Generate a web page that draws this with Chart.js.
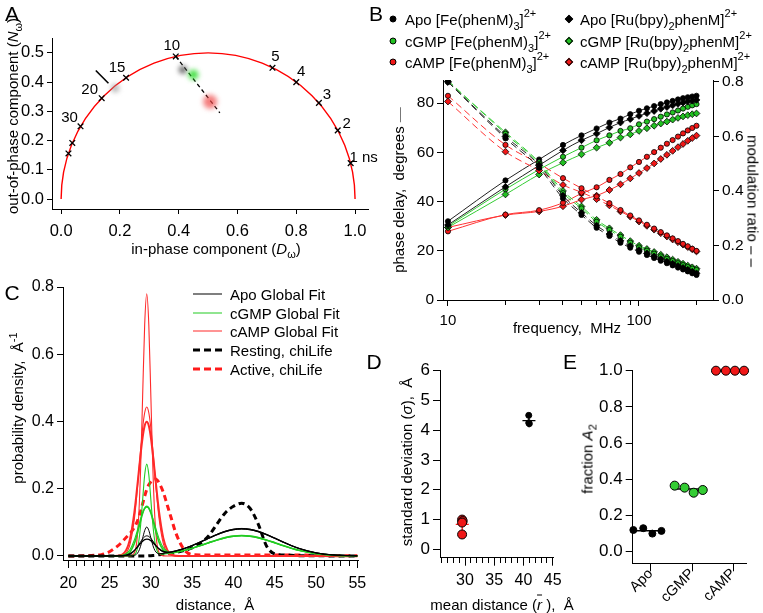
<!DOCTYPE html>
<html>
<head>
<meta charset="utf-8">
<script src="https://cdn.jsdelivr.net/npm/chart.js"></script>
<style>
  body { margin:0; width:763px; height:613px; position:relative; background:#fff; overflow:hidden;
         font-family:'Liberation Sans', Arial, Helvetica, sans-serif; color:#000; }
  canvas { position:absolute; left:0; top:0; }
  .t { position:absolute; font-size:15px; white-space:pre; line-height:1; }
  .c { transform:translate(-50%,-50%); }
  .rot { transform:translate(-50%,-50%) rotate(-90deg); }
  .rot90 { transform:translate(-50%,-50%) rotate(90deg); }
  .lg { transform:translateY(-50%); }
  .letter { position:absolute; font-size:21px; line-height:1; transform:translate(-50%,-50%); }
  .lo { font-size:11px; position:relative; top:5px; }
  .hi { font-size:11px; position:relative; top:-8px; }
  sub { font-size:11px; line-height:0; }
  .mk { position:absolute; width:7px; height:7px; box-sizing:border-box; border:1px solid #000; transform:translate(-50%,-50%); }
  .circ { border-radius:50%; }
  .dia { width:6px; height:6px; transform:translate(-50%,-50%) rotate(45deg); }
  .ln { position:absolute; transform:translateY(-50%); }
</style>
</head>
<body>
<canvas id="chartA" width="763" height="613"></canvas>
<canvas id="chartB" width="763" height="613"></canvas>
<canvas id="chartC" width="763" height="613"></canvas>
<canvas id="chartD" width="763" height="613"></canvas>
<canvas id="chartE" width="763" height="613"></canvas>

<!-- panel letters -->
<div class="letter" style="left:12px;top:13px">A</div>
<div class="letter" style="left:376px;top:13px">B</div>
<div class="letter" style="left:12px;top:292px">C</div>
<div class="letter" style="left:374px;top:361px">D</div>
<div class="letter" style="left:570px;top:361px">E</div>

<!-- axis titles -->
<div class="t rot" style="left:12px;top:116px">out-of-phase component (<i>N</i><sub>ω</sub>)</div>
<div class="t c" style="left:216px;top:248px">in-phase component (<i>D</i><sub>ω</sub>)</div>
<div class="t rot" style="left:398px;top:190px">phase delay,  degrees <span style="color:#777">—</span></div>
<div class="t rot90" style="left:753px;top:201px">modulation ratio – –</div>
<div class="t c" style="left:567px;top:327px">frequency,  MHz</div>
<div class="t rot" style="left:17px;top:408px">probability density,  Å<span class="hi" style="top:-6px">-1</span></div>
<div class="t c" style="left:215px;top:604px">distance,  Å</div>
<div class="t rot" style="left:406px;top:462px">standard deviation (<i>σ</i>),  Å</div>
<div class="t c" style="left:502px;top:604px">mean distance (<i style="text-decoration:overline">r</i> ),  Å</div>
<div class="t rot" style="left:587px;top:459px">fraction <i>A</i><sub>2</sub></div>

<!-- panel B legend -->
<div class="mk circ" style="left:393px;top:19px;background:#000"></div>
<div class="t lg" style="left:405px;top:19px">Apo [Fe(phenM)<span class="lo">3</span>]<span class="hi">2+</span></div>
<div class="mk circ" style="left:393px;top:41px;background:#22c022"></div>
<div class="t lg" style="left:405px;top:41px">cGMP [Fe(phenM)<span class="lo">3</span>]<span class="hi">2+</span></div>
<div class="mk circ" style="left:393px;top:62px;background:#f01818"></div>
<div class="t lg" style="left:405px;top:62px">cAMP [Fe(phenM)<span class="lo">3</span>]<span class="hi">2+</span></div>
<div class="mk dia" style="left:569px;top:19px;background:#000"></div>
<div class="t lg" style="left:580px;top:19px">Apo [Ru(bpy)<span class="lo">2</span>phenM]<span class="hi">2+</span></div>
<div class="mk dia" style="left:569px;top:41px;background:#22c022"></div>
<div class="t lg" style="left:580px;top:41px">cGMP [Ru(bpy)<span class="lo">2</span>phenM]<span class="hi">2+</span></div>
<div class="mk dia" style="left:569px;top:62px;background:#f01818"></div>
<div class="t lg" style="left:580px;top:62px">cAMP [Ru(bpy)<span class="lo">2</span>phenM]<span class="hi">2+</span></div>

<!-- panel C legend -->
<div class="ln" style="left:193px;top:294px;width:29px;height:1px;background:#000"></div>
<div class="t lg" style="left:230px;top:294px">Apo Global Fit</div>
<div class="ln" style="left:193px;top:313px;width:29px;height:1px;background:#22cc22"></div>
<div class="t lg" style="left:230px;top:313px">cGMP Global Fit</div>
<div class="ln" style="left:193px;top:331px;width:29px;height:1px;background:#ff2a2a"></div>
<div class="t lg" style="left:230px;top:331px">cAMP Global Fit</div>
<div class="ln" style="left:193px;top:350px;width:29px;height:3px;background:repeating-linear-gradient(90deg,#000 0 7px,transparent 7px 11px)"></div>
<div class="t lg" style="left:230px;top:350px">Resting, chiLife</div>
<div class="ln" style="left:193px;top:369px;width:29px;height:3px;background:repeating-linear-gradient(90deg,#ff1a1a 0 7px,transparent 7px 11px)"></div>
<div class="t lg" style="left:230px;top:369px">Active, chiLife</div>

<script>
// ---- Panel A: phasor plot ----
const lifetimeLabels = ['1 ns', '2', '3', '4', '5', '10', '15', '20', '30', '', ''];
const lifetimeD = [0.985, 0.941, 0.877, 0.800, 0.719, 0.390, 0.221, 0.138, 0.066, 0.038, 0.025];
const lifetimeN = [0.123, 0.235, 0.329, 0.400, 0.449, 0.488, 0.415, 0.345, 0.249, 0.192, 0.156];
const fretLineD = [0.39, 0.54];
const fretLineN = [0.488, 0.295];
const arrowD = [0.118, 0.161];
const arrowN = [0.440, 0.396];
const cloudD = [0.184, 0.414, 0.450, 0.507];
const cloudN = [0.379, 0.442, 0.425, 0.333];

// ---- Panel B: frequency domain data ----
const freqMHz = [10, 20, 30, 40, 50, 60, 70, 80, 90, 100, 110, 120, 130, 140, 150, 160, 170, 180, 190, 200];
const phaseApoFe  = [32, 48.6, 57.1, 63, 66.9, 69.7, 72.1, 73.7, 75.5, 76.9, 77.9, 78.8, 79.6, 80.3, 80.9, 81.5, 82, 82.4, 82.7, 83];
const phaseApoRu  = [30.5, 46, 54.7, 60.8, 64.9, 67.6, 70.1, 72.1, 73.5, 74.8, 75.9, 76.8, 77.7, 78.4, 79.1, 79.7, 80.2, 80.7, 81, 81.3];
const phaseCgmpFe = [30, 45, 53, 58.2, 61.9, 64.9, 66.9, 68.7, 69.8, 71.4, 72.5, 73.5, 74.5, 75.4, 76.2, 77, 77.8, 78.5, 79.1, 79.6];
const phaseCgmpRu = [29.5, 42.9, 51, 55.8, 59.2, 61.9, 63.9, 66, 67.3, 68.7, 69.8, 70.8, 71.7, 72.5, 73.3, 74, 74.6, 75.1, 75.5, 75.8];
const phaseCampFe = [27.9, 34.7, 36.5, 39.5, 43.3, 45.8, 48.8, 51.2, 53.9, 56.1, 58.2, 60.1, 61.9, 63.5, 65, 66.4, 67.7, 68.9, 69.9, 70.8];
const phaseCampRu = [29.5, 34.5, 36, 38.1, 40.8, 42.4, 44.7, 47, 49.4, 51.6, 53.6, 55.5, 57.3, 59, 60.6, 62.1, 63.4, 64.7, 65.8, 66.8];
const modApoFe  = [0.80, 0.593, 0.485, 0.373, 0.312, 0.265, 0.235, 0.210, 0.192, 0.177, 0.165, 0.154, 0.144, 0.135, 0.127, 0.119, 0.112, 0.105, 0.098, 0.092];
const modApoRu  = [0.80, 0.600, 0.495, 0.383, 0.320, 0.273, 0.242, 0.217, 0.198, 0.183, 0.171, 0.160, 0.150, 0.141, 0.133, 0.125, 0.118, 0.111, 0.104, 0.098];
const modCgmpFe = [0.805, 0.610, 0.500, 0.392, 0.336, 0.287, 0.257, 0.232, 0.210, 0.193, 0.181, 0.170, 0.160, 0.151, 0.143, 0.135, 0.128, 0.121, 0.115, 0.110];
const modCgmpRu = [0.800, 0.615, 0.505, 0.400, 0.343, 0.294, 0.263, 0.238, 0.216, 0.199, 0.187, 0.176, 0.166, 0.157, 0.148, 0.140, 0.133, 0.126, 0.120, 0.115];
const modCampFe = [0.749, 0.569, 0.500, 0.447, 0.410, 0.380, 0.355, 0.330, 0.310, 0.292, 0.276, 0.262, 0.249, 0.237, 0.226, 0.216, 0.206, 0.197, 0.188, 0.180];
const modCampRu = [0.728, 0.544, 0.475, 0.422, 0.395, 0.370, 0.347, 0.325, 0.306, 0.288, 0.272, 0.258, 0.245, 0.233, 0.222, 0.212, 0.203, 0.194, 0.186, 0.178];

// ---- Panel C: distance distributions ----
const distance = [20, 24, 26, 27, 27.5, 28, 28.25, 28.5, 28.75, 29, 29.25, 29.5, 29.75, 30, 30.25, 30.5, 30.75, 31, 31.5, 32,
                  32.5, 33, 34, 35, 36, 37, 38, 39, 40, 41, 42, 43, 44, 45, 46, 47, 48, 50, 52, 55];
const apoFit1 = [0, 0, 0.0002, 0.0004, 0.0006, 0.0019, 0.0050, 0.0128, 0.0290, 0.0525, 0.0755, 0.0862, 0.0762, 0.0540, 0.0310, 0.0158, 0.0088, 0.0067, 0.0074, 0.0095,
                 0.0119, 0.0149, 0.0222, 0.0314, 0.0421, 0.0535, 0.0645, 0.0737, 0.0798, 0.0820, 0.0798, 0.0737, 0.0645, 0.0535, 0.0421, 0.0314, 0.0222, 0.0095, 0.0033, 0.0004];
const apoFit2 = [0, 0, 0.0002, 0.0016, 0.0055, 0.0152, 0.0231, 0.0323, 0.0422, 0.0511, 0.0574, 0.0600, 0.0581, 0.0526, 0.0444, 0.0353, 0.0269, 0.0199, 0.0121, 0.0104,
                 0.0119, 0.0146, 0.0217, 0.0307, 0.0411, 0.0523, 0.0630, 0.0720, 0.0780, 0.0801, 0.0780, 0.0720, 0.0630, 0.0523, 0.0411, 0.0307, 0.0217, 0.0092, 0.0032, 0.0004];
const apoFit3 = [0, 0, 0.0003, 0.0025, 0.0071, 0.0165, 0.0231, 0.0303, 0.0376, 0.0439, 0.0484, 0.0503, 0.0492, 0.0454, 0.0398, 0.0333, 0.0269, 0.0212, 0.0138, 0.0114,
                 0.0123, 0.0148, 0.0219, 0.0310, 0.0416, 0.0529, 0.0638, 0.0728, 0.0789, 0.0810, 0.0789, 0.0728, 0.0638, 0.0529, 0.0416, 0.0310, 0.0219, 0.0093, 0.0032, 0.0004];
const cgmpFit1 = [0, 0, 0.0002, 0.0003, 0.0006, 0.0037, 0.0127, 0.0376, 0.0892, 0.1659, 0.2409, 0.2731, 0.2415, 0.1670, 0.0909, 0.0399, 0.0156, 0.0072, 0.0056, 0.0070,
                  0.0089, 0.0110, 0.0165, 0.0233, 0.0312, 0.0397, 0.0478, 0.0546, 0.0592, 0.0608, 0.0592, 0.0546, 0.0478, 0.0397, 0.0312, 0.0233, 0.0165, 0.0070, 0.0024, 0.0003];
const cgmpFit2 = [0, 0, 0.0003, 0.0034, 0.0129, 0.0370, 0.0566, 0.0798, 0.1044, 0.1267, 0.1421, 0.1480, 0.1427, 0.1278, 0.1061, 0.0821, 0.0595, 0.0405, 0.0179, 0.0101,
                  0.0095, 0.0111, 0.0165, 0.0233, 0.0312, 0.0397, 0.0478, 0.0546, 0.0592, 0.0608, 0.0592, 0.0546, 0.0478, 0.0397, 0.0312, 0.0233, 0.0165, 0.0070, 0.0024, 0.0003];
const cgmpFit3 = [0, 0, 0.0005, 0.0066, 0.0199, 0.0475, 0.0667, 0.0880, 0.1095, 0.1280, 0.1408, 0.1454, 0.1414, 0.1291, 0.1112, 0.0903, 0.0696, 0.0510, 0.0249, 0.0133,
                  0.0105, 0.0114, 0.0162, 0.0228, 0.0305, 0.0388, 0.0468, 0.0535, 0.0580, 0.0595, 0.0580, 0.0535, 0.0468, 0.0388, 0.0305, 0.0228, 0.0162, 0.0069, 0.0024, 0.0003];
const campFit1 = [0, 0, 0, 0, 0.0003, 0.0087, 0.034, 0.106, 0.253, 0.473, 0.688, 0.78, 0.688, 0.473, 0.253, 0.106, 0.034, 0.0087, 0.0003, 0,
                  0, 0, 0, 0, 0, 0, 0, 0, 0, 0, 0, 0, 0, 0, 0, 0, 0, 0, 0, 0];
const campFit2 = [0, 0, 0.0002, 0.0093, 0.0375, 0.110, 0.169, 0.239, 0.313, 0.380, 0.426, 0.443, 0.426, 0.380, 0.313, 0.239, 0.169, 0.110, 0.0375, 0.0093,
                  0.0017, 0.0002, 0, 0, 0, 0, 0, 0, 0, 0, 0, 0, 0, 0, 0, 0, 0, 0, 0, 0];
const campFit3 = [0, 0, 0.0009, 0.0175, 0.054, 0.130, 0.183, 0.242, 0.301, 0.352, 0.387, 0.399, 0.387, 0.352, 0.301, 0.242, 0.183, 0.130, 0.054, 0.0175,
                  0.0044, 0.0009, 0, 0, 0, 0, 0, 0, 0, 0, 0, 0, 0, 0, 0, 0, 0, 0, 0, 0];
const restingChiLife = [0, 0, 0, 0, 0, 0, 0, 0, 0, 0, 0, 0, 0.0005, 0.001, 0.0015, 0.002, 0.003, 0.004, 0.005, 0.006,
                        0.008, 0.010, 0.016, 0.024, 0.038, 0.060, 0.095, 0.128, 0.148, 0.157, 0.142, 0.095, 0.030, 0.006, 0.003, 0.002, 0.001, 0.001, 0, 0];
const activeChiLife = [0, 0.004, 0.030, 0.055, 0.068, 0.085, 0.097, 0.113, 0.133, 0.155, 0.178, 0.198, 0.212, 0.221, 0.227, 0.229, 0.226, 0.217, 0.190, 0.150,
                       0.110, 0.070, 0.020, 0.004, 0.003, 0.003, 0.003, 0.003, 0.003, 0.003, 0.003, 0.003, 0.003, 0.003, 0.003, 0.003, 0.003, 0.002, 0.001, 0.001];

// ---- Panel D: fitted gaussian parameters ----
const shortMeanR = [29.5, 29.6, 29.5, 29.5];
const shortSigma = [1.0, 0.95, 0.9, 0.5];
const longMeanR = [40.9, 40.9, 41.0];
const longSigma = [4.5, 4.25, 4.22];

// ---- Panel E: fraction A2 ----
const ligands = ['Apo', 'cGMP', 'cAMP'];
const fracApo  = [0.12, 0.13, 0.10, 0.115];
const fracCgmp = [0.365, 0.354, 0.326, 0.341];
const fracCamp = [1.0, 1.0, 1.0, 1.0];

// ------------------------------------------------------------
const FAMILY = "'Liberation Sans', Arial, Helvetica, sans-serif";
Chart.defaults.font = {family: FAMILY, size: 15};
Chart.defaults.color = '#000';
const W = 763, H = 613;

const zip = (xs, ys) => xs.map((x, i) => ({x: x, y: ys[i]}));
const mean = a => a.reduce((s, v) => s + v, 0) / a.length;
const oneDec = v => Number(v).toFixed(1);

// axis with fixed size, explicit tick values and Igor-like outside ticks
function axis(o) {
  return {
    type: o.type || 'linear',
    position: o.position,
    min: o.min, max: o.max,
    afterBuildTicks: s => { s.ticks = o.ticks.map(v => ({value: v})); },
    afterFit: s => { if (s.isHorizontal()) s.height = o.size; else s.width = o.size; },
    grid: {display: true, drawOnChartArea: false, drawTicks: true, tickLength: o.tickLength || 5,
           tickColor: '#000', tickWidth: 1, tickBorderDash: o.dash || (() => [])},
    border: {display: true, color: '#000', width: 1},
    ticks: {color: '#000', font: {family: FAMILY, size: o.fontSize || 16}, padding: o.padding === undefined ? 3 : o.padding,
            autoSkip: false, maxRotation: o.rot || 0, minRotation: o.rot || 0, callback: o.label || (v => String(v))}
  };
}

// chart area placed on page pixels
function place(left, top, right, bottom, yW, xH, rW) {
  return {padding: {left: left - yW, top: top, right: W - right - (rW || 0), bottom: H - bottom - xH}};
}

function baseOptions(layout, scales) {
  return {
    responsive: false, animation: false, devicePixelRatio: 1, events: [],
    layout: layout, scales: scales,
    plugins: {legend: {display: false}, tooltip: {enabled: false}}
  };
}

// blurred clouds in the phasor plot
const blurPlugin = {
  id: 'blurClouds',
  beforeDatasetDraw(chart, args) {
    const b = chart.data.datasets[args.index].blur;
    if (b) { chart.ctx.save(); chart.ctx.filter = 'blur(' + b + 'px)'; }
  },
  afterDatasetDraw(chart, args) {
    if (chart.data.datasets[args.index].blur) chart.ctx.restore();
  }
};

// universal semicircle and lifetime labels
const labelOffsets = [[13, -5], [9, -7], [8, -8], [5, -10.5], [3, -11], [-4, -10.5], [-9, -10], [-12, -8], [-11, -8], [0, 0], [0, 0]];
const phasorDecor = {
  id: 'phasorDecor',
  beforeDatasetsDraw(chart) {
    const {ctx, scales: {x, y}} = chart;
    const cx = x.getPixelForValue(0.5), cy = y.getPixelForValue(0);
    const rx = x.getPixelForValue(1) - cx, ry = cy - y.getPixelForValue(0.5);
    ctx.save();
    ctx.strokeStyle = '#ff0000';
    ctx.lineWidth = 1.4;
    ctx.beginPath();
    ctx.ellipse(cx, cy, rx, ry, 0, Math.PI, 2 * Math.PI);
    ctx.stroke();
    ctx.restore();
  },
  afterDatasetsDraw(chart) {
    const ctx = chart.ctx;
    const pts = chart.getDatasetMeta(3).data;
    ctx.save();
    ctx.font = "15px " + FAMILY;
    ctx.fillStyle = '#000';
    ctx.textAlign = 'center';
    ctx.textBaseline = 'middle';
    lifetimeLabels.forEach((t, i) => {
      if (t) ctx.fillText(t, pts[i].x + labelOffsets[i][0], pts[i].y + labelOffsets[i][1]);
    });
    ctx.restore();
  }
};

// ---- Chart A ----
new Chart(document.getElementById('chartA'), {
  type: 'scatter',
  data: {datasets: [
    {data: zip(cloudD, cloudN), pointRadius: [4, 4, 5, 7], borderWidth: 0, blur: 2.5,
     backgroundColor: ['rgba(150,150,150,0.7)', 'rgba(80,80,80,0.85)', 'rgba(40,220,40,0.85)', 'rgba(240,70,70,0.7)']},
    {data: zip(fretLineD, fretLineN), showLine: true, borderColor: '#000', borderWidth: 1.3, borderDash: [4, 3], pointRadius: 0},
    {data: zip(arrowD, arrowN), showLine: true, borderColor: '#000', borderWidth: 1.6, pointRadius: 0},
    {data: zip(lifetimeD, lifetimeN), pointStyle: 'crossRot', pointRadius: 4, borderColor: '#000', borderWidth: 1.3}
  ]},
  options: baseOptions(place(52, 38, 368, 209, 40, 30), {
    x: axis({position: 'bottom', min: -0.031, max: 1.044, ticks: [0, 0.2, 0.4, 0.6, 0.8, 1.0], size: 30, padding: 8, label: oneDec, fontSize: 16.5}),
    y: axis({position: 'left', min: -0.034, max: 0.551, ticks: [0, 0.1, 0.2, 0.3, 0.4, 0.5], size: 40, label: oneDec, fontSize: 16.5})
  }),
  plugins: [blurPlugin, phasorDecor]
});

// ---- Chart B ----
function freqSeries(values, axisId, color, fill, style, dashed) {
  return {
    data: zip(freqMHz, values), yAxisID: axisId, showLine: true, cubicInterpolationMode: 'monotone',
    borderColor: color, borderWidth: 1, borderDash: dashed ? [7, 4] : [],
    pointStyle: style, pointRadius: style === 'circle' ? 2.6 : 3.4,
    pointBackgroundColor: fill, pointBorderColor: '#000', pointBorderWidth: 0.8
  };
}
const BLACK = '#222', GREEN = '#33cc33', RED = '#ff3333';
const GFILL = '#22c022', RFILL = '#f01818';
const freqTicks = [10, 20, 30, 40, 50, 60, 70, 80, 90, 100, 200];
new Chart(document.getElementById('chartB'), {
  type: 'scatter',
  data: {datasets: [
    freqSeries(modApoFe, 'y2', BLACK, '#000', 'circle', true),
    freqSeries(modApoRu, 'y2', BLACK, '#000', 'rectRot', true),
    freqSeries(modCgmpFe, 'y2', GREEN, GFILL, 'circle', true),
    freqSeries(modCgmpRu, 'y2', GREEN, GFILL, 'rectRot', true),
    freqSeries(modCampFe, 'y2', RED, RFILL, 'circle', true),
    freqSeries(modCampRu, 'y2', RED, RFILL, 'rectRot', true),
    freqSeries(phaseApoFe, 'y', BLACK, '#000', 'circle', false),
    freqSeries(phaseApoRu, 'y', BLACK, '#000', 'rectRot', false),
    freqSeries(phaseCgmpFe, 'y', GREEN, GFILL, 'circle', false),
    freqSeries(phaseCgmpRu, 'y', GREEN, GFILL, 'rectRot', false),
    freqSeries(phaseCampFe, 'y', RED, RFILL, 'circle', false),
    freqSeries(phaseCampRu, 'y', RED, RFILL, 'rectRot', false)
  ]},
  options: baseOptions(place(443, 80, 713, 300, 40, 30, 40), {
    x: axis({type: 'logarithmic', position: 'bottom', min: 9.42, max: 244, ticks: freqTicks, size: 30, padding: 6,
             tickLength: 6, fontSize: 15, dash: c => (c.tick && (c.tick.value === 10 || c.tick.value === 100)) ? [] : [4, 20],
             label: v => (v === 10 || v === 100) ? String(v) : ''}),
    y: axis({position: 'left', min: 0, max: 89.4, ticks: [0, 20, 40, 60, 80], size: 40, tickLength: 6, fontSize: 15.5}),
    y2: axis({position: 'right', min: 0, max: 0.807, ticks: [0, 0.2, 0.4, 0.6, 0.8], size: 40, tickLength: 6, label: oneDec, fontSize: 15.5})
  })
});

// ---- Chart C ----
function distSeries(values, color, width, dash) {
  return {data: zip(distance, values), showLine: true, cubicInterpolationMode: 'monotone',
          borderColor: color, borderWidth: width, borderDash: dash || [], pointRadius: 0};
}
const distTicks = [];
for (let d = 20; d <= 55; d++) distTicks.push(d);
new Chart(document.getElementById('chartC'), {
  type: 'scatter',
  data: {datasets: [
    distSeries(apoFit1, '#000', 1), distSeries(apoFit2, '#000', 1), distSeries(apoFit3, '#000', 1.4),
    distSeries(cgmpFit1, '#22cc22', 1.1), distSeries(cgmpFit2, '#22cc22', 1.6), distSeries(cgmpFit3, '#22cc22', 1.1),
    distSeries(campFit1, '#ff2a2a', 1.1), distSeries(campFit2, '#ff2a2a', 1.1), distSeries(campFit3, '#ff2a2a', 2),
    distSeries(restingChiLife, '#000', 3, [6, 4]),
    distSeries(activeChiLife, '#ff1a1a', 3, [6, 4])
  ]},
  options: baseOptions(place(63, 287, 358, 560, 40, 30), {
    x: axis({position: 'bottom', min: 19.36, max: 55.08, ticks: distTicks, size: 30, padding: 6, tickLength: 8,
             dash: c => (c.tick && c.tick.value % 5 === 0) ? [] : [5, 20],
             label: v => v % 5 === 0 ? String(v) : ''}),
    y: axis({position: 'left', min: -0.0119, max: 0.8, ticks: [0, 0.2, 0.4, 0.6, 0.8], size: 40, tickLength: 6, label: oneDec})
  })
});

// ---- Chart D ----
const meanTicks = [];
for (let d = 26; d <= 45; d++) meanTicks.push(d);
new Chart(document.getElementById('chartD'), {
  type: 'scatter',
  data: {datasets: [
    {data: zip(longMeanR, longSigma), pointRadius: 3, backgroundColor: '#000', borderColor: '#000', borderWidth: 1},
    {data: zip(shortMeanR, shortSigma), pointRadius: 4.5, backgroundColor: '#f01818', borderColor: '#000', borderWidth: 1},
    {data: [{x: mean(longMeanR), y: mean(longSigma)}], pointStyle: 'cross', pointRadius: 6.5, borderColor: '#000', borderWidth: 1.4},
    {data: [{x: mean(shortMeanR), y: mean(shortSigma)}], pointStyle: 'cross', pointRadius: 6.5, borderColor: '#ff2020', borderWidth: 1.4}
  ]},
  options: baseOptions(place(440, 370.7, 553, 557.7, 30, 30), {
    x: axis({position: 'bottom', min: 25.72, max: 45.05, ticks: meanTicks, size: 30, padding: 5, tickLength: 8,
             dash: c => (c.tick && c.tick.value % 5 === 0) ? [] : [5, 20],
             label: v => v % 5 === 0 ? String(v) : ''}),
    y: axis({position: 'left', min: -0.28, max: 6, ticks: [0, 1, 2, 3, 4, 5, 6], size: 30, tickLength: 7, fontSize: 17})
  })
});

// ---- Chart E ----
const jitter = [-0.42, -0.18, 0.04, 0.26];
const groups = [fracApo, fracCgmp, fracCamp];
const groupFill = ['#000', '#33cc33', '#f01818'];
const eSets = [];
groups.forEach((g, i) => {
  eSets.push({data: g.map((v, j) => ({x: i + jitter[j], y: v})), pointRadius: i === 0 ? 3.5 : 4.5,
              backgroundColor: groupFill[i], borderColor: '#000', borderWidth: 1, clip: false});
});
// mean lines drawn over the points
groups.forEach((g, i) => {
  eSets.push({data: [{x: i - 0.46, y: mean(g)}, {x: i + 0.31, y: mean(g)}], showLine: true,
              borderColor: '#000', borderWidth: 1.5, pointRadius: 0, clip: false});
});
new Chart(document.getElementById('chartE'), {
  type: 'scatter',
  data: {datasets: eSets},
  options: baseOptions(place(632.7, 370.7, 746.7, 563.3, 40, 40), {
    x: axis({position: 'bottom', min: -0.436, max: 2.324, ticks: [0, 1, 2], size: 40, tickLength: 8, padding: -6, rot: 45,
             fontSize: 14.5, label: v => ligands[v]}),
    y: axis({position: 'left', min: -0.064, max: 1.0, ticks: [0, 0.2, 0.4, 0.6, 0.8, 1.0], size: 40, tickLength: 7, label: oneDec, fontSize: 17})
  })
});
</script>
</body>
</html>
